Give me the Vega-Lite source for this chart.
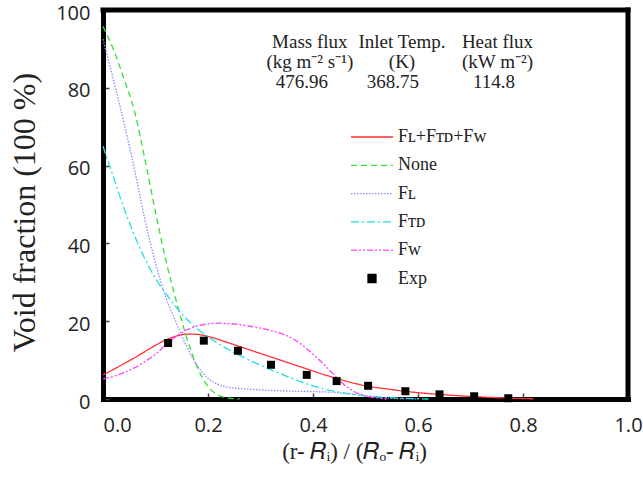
{
  "$schema": "https://vega.github.io/schema/vega-lite/v6.json",
  "width": 525,
  "height": 389,
  "autosize": {"type": "none"},
  "padding": {"left": 103, "top": 10, "right": 15, "bottom": 84},
  "background": "white",
  "config": {
    "view": {"stroke": null},
    "axis": {
      "zindex": 1,
      "grid": false,
      "domainColor": "black",
      "domainWidth": 5,
      "domainCap": "square",
      "tickColor": "#444",
      "tickWidth": 1.5,
      "tickSize": -6,
      "labelFont": "Open Sans",
      "labelFontSize": 20,
      "labelColor": "#222",
      "titleFont": "Liberation Serif",
      "titleFontWeight": "normal",
      "titleColor": "#222"
    },
    "legend": {
      "orient": "none",
      "legendX": 247,
      "legendY": 117,
      "padding": 0,
      "title": null,
      "labelFont": "Liberation Serif",
      "labelFontSize": 18,
      "labelColor": "#222",
      "labelOffset": 4,
      "symbolSize": 1764,
      "symbolStrokeWidth": 1.3,
      "symbolOffset": 0,
      "clipHeight": 20,
      "rowPadding": 8.3
    }
  },
  "datasets": {
    "curves": [
      {"series": "FL+FTD+FW", "x": 0, "y": 6.2}, {"series": "FL+FTD+FW", "x": 0.02, "y": 7.6}, {"series": "FL+FTD+FW", "x": 0.04, "y": 9.1}, {"series": "FL+FTD+FW", "x": 0.06, "y": 10.6}, {"series": "FL+FTD+FW", "x": 0.08, "y": 12.2}, {"series": "FL+FTD+FW", "x": 0.1, "y": 13.8}, {"series": "FL+FTD+FW", "x": 0.12, "y": 15.2}, {"series": "FL+FTD+FW", "x": 0.14, "y": 16.2}, {"series": "FL+FTD+FW", "x": 0.16, "y": 16.7}, {"series": "FL+FTD+FW", "x": 0.18, "y": 16.6}, {"series": "FL+FTD+FW", "x": 0.2, "y": 16.1}, {"series": "FL+FTD+FW", "x": 0.22, "y": 15.3}, {"series": "FL+FTD+FW", "x": 0.24, "y": 14.4}, {"series": "FL+FTD+FW", "x": 0.26, "y": 13.5}, {"series": "FL+FTD+FW", "x": 0.28, "y": 12.6}, {"series": "FL+FTD+FW", "x": 0.3, "y": 11.7}, {"series": "FL+FTD+FW", "x": 0.32, "y": 10.8}, {"series": "FL+FTD+FW", "x": 0.34, "y": 9.9}, {"series": "FL+FTD+FW", "x": 0.36, "y": 9.0}, {"series": "FL+FTD+FW", "x": 0.38, "y": 8.1}, {"series": "FL+FTD+FW", "x": 0.4, "y": 7.2}, {"series": "FL+FTD+FW", "x": 0.42, "y": 6.3}, {"series": "FL+FTD+FW", "x": 0.44, "y": 5.5}, {"series": "FL+FTD+FW", "x": 0.46, "y": 4.7}, {"series": "FL+FTD+FW", "x": 0.48, "y": 4.0}, {"series": "FL+FTD+FW", "x": 0.5, "y": 3.4}, {"series": "FL+FTD+FW", "x": 0.54, "y": 2.6}, {"series": "FL+FTD+FW", "x": 0.58, "y": 1.9}, {"series": "FL+FTD+FW", "x": 0.62, "y": 1.4}, {"series": "FL+FTD+FW", "x": 0.66, "y": 1.0}, {"series": "FL+FTD+FW", "x": 0.7, "y": 0.65}, {"series": "FL+FTD+FW", "x": 0.74, "y": 0.4}, {"series": "FL+FTD+FW", "x": 0.78, "y": 0.2}, {"series": "FL+FTD+FW", "x": 0.82, "y": 0.05},
      {"series": "None", "x": 0, "y": 95.8}, {"series": "None", "x": 0.02, "y": 89.8}, {"series": "None", "x": 0.04, "y": 82.3}, {"series": "None", "x": 0.06, "y": 74}, {"series": "None", "x": 0.08, "y": 61.5}, {"series": "None", "x": 0.1, "y": 48}, {"series": "None", "x": 0.12, "y": 35.5}, {"series": "None", "x": 0.14, "y": 25}, {"series": "None", "x": 0.16, "y": 15.5}, {"series": "None", "x": 0.18, "y": 8}, {"series": "None", "x": 0.2, "y": 3.2}, {"series": "None", "x": 0.22, "y": 1.0}, {"series": "None", "x": 0.24, "y": 0.2}, {"series": "None", "x": 0.26, "y": 0},
      {"series": "FL", "x": 0, "y": 92.5}, {"series": "FL", "x": 0.02, "y": 82}, {"series": "FL", "x": 0.04, "y": 71}, {"series": "FL", "x": 0.06, "y": 59}, {"series": "FL", "x": 0.08, "y": 46}, {"series": "FL", "x": 0.1, "y": 35}, {"series": "FL", "x": 0.12, "y": 26}, {"series": "FL", "x": 0.14, "y": 19.5}, {"series": "FL", "x": 0.16, "y": 13.3}, {"series": "FL", "x": 0.18, "y": 8.5}, {"series": "FL", "x": 0.2, "y": 5.3}, {"series": "FL", "x": 0.22, "y": 3.7}, {"series": "FL", "x": 0.24, "y": 3.0}, {"series": "FL", "x": 0.28, "y": 2.5}, {"series": "FL", "x": 0.32, "y": 2.2}, {"series": "FL", "x": 0.36, "y": 2.0}, {"series": "FL", "x": 0.4, "y": 1.9}, {"series": "FL", "x": 0.44, "y": 1.7}, {"series": "FL", "x": 0.48, "y": 1.2}, {"series": "FL", "x": 0.52, "y": 0.5}, {"series": "FL", "x": 0.56, "y": 0.1}, {"series": "FL", "x": 0.6, "y": 0},
      {"series": "FTD", "x": 0, "y": 65}, {"series": "FTD", "x": 0.02, "y": 57}, {"series": "FTD", "x": 0.04, "y": 49}, {"series": "FTD", "x": 0.06, "y": 42}, {"series": "FTD", "x": 0.08, "y": 36}, {"series": "FTD", "x": 0.1, "y": 31}, {"series": "FTD", "x": 0.12, "y": 27}, {"series": "FTD", "x": 0.14, "y": 23.5}, {"series": "FTD", "x": 0.16, "y": 20.5}, {"series": "FTD", "x": 0.18, "y": 18}, {"series": "FTD", "x": 0.2, "y": 16}, {"series": "FTD", "x": 0.22, "y": 14.2}, {"series": "FTD", "x": 0.24, "y": 12.6}, {"series": "FTD", "x": 0.26, "y": 11.2}, {"series": "FTD", "x": 0.28, "y": 9.9}, {"series": "FTD", "x": 0.3, "y": 8.7}, {"series": "FTD", "x": 0.32, "y": 7.5}, {"series": "FTD", "x": 0.34, "y": 6.4}, {"series": "FTD", "x": 0.36, "y": 5.3}, {"series": "FTD", "x": 0.38, "y": 4.3}, {"series": "FTD", "x": 0.4, "y": 3.4}, {"series": "FTD", "x": 0.42, "y": 2.6}, {"series": "FTD", "x": 0.44, "y": 2.0}, {"series": "FTD", "x": 0.46, "y": 1.5}, {"series": "FTD", "x": 0.48, "y": 1.1}, {"series": "FTD", "x": 0.5, "y": 0.8}, {"series": "FTD", "x": 0.54, "y": 0.4}, {"series": "FTD", "x": 0.58, "y": 0.15}, {"series": "FTD", "x": 0.62, "y": 0},
      {"series": "FW", "x": 0, "y": 5.2}, {"series": "FW", "x": 0.02, "y": 5.8}, {"series": "FW", "x": 0.04, "y": 6.8}, {"series": "FW", "x": 0.06, "y": 8.0}, {"series": "FW", "x": 0.08, "y": 9.6}, {"series": "FW", "x": 0.1, "y": 11.5}, {"series": "FW", "x": 0.12, "y": 14.0}, {"series": "FW", "x": 0.14, "y": 16.2}, {"series": "FW", "x": 0.16, "y": 17.8}, {"series": "FW", "x": 0.18, "y": 18.8}, {"series": "FW", "x": 0.2, "y": 19.3}, {"series": "FW", "x": 0.22, "y": 19.5}, {"series": "FW", "x": 0.24, "y": 19.4}, {"series": "FW", "x": 0.26, "y": 19.1}, {"series": "FW", "x": 0.28, "y": 18.7}, {"series": "FW", "x": 0.3, "y": 18.2}, {"series": "FW", "x": 0.32, "y": 17.6}, {"series": "FW", "x": 0.34, "y": 16.8}, {"series": "FW", "x": 0.36, "y": 15.6}, {"series": "FW", "x": 0.38, "y": 13.8}, {"series": "FW", "x": 0.4, "y": 11.5}, {"series": "FW", "x": 0.42, "y": 9.0}, {"series": "FW", "x": 0.44, "y": 6.2}, {"series": "FW", "x": 0.46, "y": 3.6}, {"series": "FW", "x": 0.48, "y": 1.8}, {"series": "FW", "x": 0.5, "y": 0.8}, {"series": "FW", "x": 0.52, "y": 0.3}, {"series": "FW", "x": 0.54, "y": 0}
    ],
    "exp": [
      {"series": "Exp", "x": 0.124, "y": 14.4},
      {"series": "Exp", "x": 0.192, "y": 15.0},
      {"series": "Exp", "x": 0.257, "y": 12.4},
      {"series": "Exp", "x": 0.320, "y": 8.8},
      {"series": "Exp", "x": 0.388, "y": 6.2},
      {"series": "Exp", "x": 0.445, "y": 4.6},
      {"series": "Exp", "x": 0.505, "y": 3.4},
      {"series": "Exp", "x": 0.576, "y": 2.0},
      {"series": "Exp", "x": 0.641, "y": 1.2},
      {"series": "Exp", "x": 0.707, "y": 0.7},
      {"series": "Exp", "x": 0.772, "y": 0.2}
    ]
  },
  "layer": [
    {
      "data": {"name": "curves"},
      "mark": {"type": "line", "strokeWidth": 1.3, "interpolate": "monotone"},
      "encoding": {
        "x": {
          "field": "x", "type": "quantitative",
          "scale": {"domain": [0, 1], "nice": false, "zero": false},
          "axis": {
            "values": [0, 0.2, 0.4, 0.6, 0.8, 1.0],
            "format": ".1f",
            "labelPadding": 38,
            "labelBaseline": "alphabetic",
            "labelAlign": {"condition": {"test": "datum.value == 0", "value": "left"}, "value": "center"},
            "title": "(r- 𝑅ᵢ) / (𝑅ₒ- 𝑅ᵢ)",
            "titleFontSize": 23,
            "titleX": 251,
            "titleY": 59,
            "titleBaseline": "alphabetic",
            "titleAlign": "center"
          }
        },
        "y": {
          "field": "y", "type": "quantitative",
          "scale": {"domain": [0, 100], "nice": false},
          "axis": {
            "values": [0, 20, 40, 60, 80, 100],
            "labelPadding": 19,
            "labelOffset": 3,
            "labelBaseline": "middle",
            "title": "Void fraction (100 %)",
            "titleFontSize": 32,
            "titleX": -79,
            "titleY": 202,
            "titleAngle": -90,
            "titleBaseline": "middle",
            "titleAlign": "center"
          }
        },
        "color": {
          "field": "series", "type": "nominal",
          "scale": {
            "domain": ["FL+FTD+FW", "None", "FL", "FTD", "FW", "Exp"],
            "range": ["#ff3030", "#33e033", "#8a8aff", "#22e0e0", "#ff40ff", "#000000"]
          },
          "legend": {
            "labelExpr": "datum.label == 'FL+FTD+FW' ? 'Fʟ+Fᴛᴅ+Fᴡ' : datum.label == 'FL' ? 'Fʟ' : datum.label == 'FTD' ? 'Fᴛᴅ' : datum.label == 'FW' ? 'Fᴡ' : datum.label"
          }
        },
        "strokeDash": {
          "field": "series", "type": "nominal",
          "scale": {
            "domain": ["FL+FTD+FW", "None", "FL", "FTD", "FW", "Exp"],
            "range": [[1, 0], [6, 4], [1.5, 1.5], [8, 3, 2, 3], [6, 2, 2, 2, 2, 2], [1, 0]]
          }
        }
      }
    },
    {
      "data": {"name": "exp"},
      "mark": {"type": "point", "filled": true, "size": 1764, "opacity": 1},
      "encoding": {
        "x": {"field": "x", "type": "quantitative"},
        "y": {"field": "y", "type": "quantitative"},
        "color": {"field": "series", "type": "nominal"},
        "shape": {
          "field": "series", "type": "nominal",
          "scale": {
            "domain": ["FL+FTD+FW", "None", "FL", "FTD", "FW", "Exp"],
            "range": ["stroke", "stroke", "stroke", "stroke", "stroke", "M-0.19,-0.19H0.19V0.19H-0.19Z"]
          }
        }
      }
    },
    {
      "data": {"values": [{}]},
      "mark": {"type": "rule", "color": "black", "strokeWidth": 5, "strokeCap": "square"},
      "encoding": {"x": {"datum": 0}, "x2": {"datum": 1}, "y": {"datum": 100}}
    },
    {
      "data": {"values": [{}]},
      "mark": {"type": "rule", "color": "black", "strokeWidth": 5, "strokeCap": "square"},
      "encoding": {"x": {"datum": 1}, "y": {"datum": 0}, "y2": {"datum": 100}}
    },
    {
      "data": {"values": [{}]},
      "mark": {"type": "text", "text": ["Mass flux", "(kg m⁻² s⁻¹)"], "font": "Liberation Serif", "fontSize": 19, "lineHeight": 20, "baseline": "alphabetic", "align": "center", "color": "#222"},
      "encoding": {"x": {"datum": 0.394}, "y": {"datum": 90.2}}
    },
    {
      "data": {"values": [{}]},
      "mark": {"type": "text", "text": "476.96", "font": "Liberation Serif", "fontSize": 19, "baseline": "alphabetic", "align": "center", "color": "#222"},
      "encoding": {"x": {"datum": 0.379}, "y": {"datum": 79.9}}
    },
    {
      "data": {"values": [{}]},
      "mark": {"type": "text", "text": ["Inlet Temp.", "(K)"], "font": "Liberation Serif", "fontSize": 19, "lineHeight": 20, "baseline": "alphabetic", "align": "center", "color": "#222"},
      "encoding": {"x": {"datum": 0.5695}, "y": {"datum": 90.2}}
    },
    {
      "data": {"values": [{}]},
      "mark": {"type": "text", "text": "368.75", "font": "Liberation Serif", "fontSize": 19, "baseline": "alphabetic", "align": "center", "color": "#222"},
      "encoding": {"x": {"datum": 0.552}, "y": {"datum": 79.9}}
    },
    {
      "data": {"values": [{}]},
      "mark": {"type": "text", "text": ["Heat flux", "(kW m⁻²)"], "font": "Liberation Serif", "fontSize": 19, "lineHeight": 20, "baseline": "alphabetic", "align": "center", "color": "#222"},
      "encoding": {"x": {"datum": 0.7514}, "y": {"datum": 90.2}}
    },
    {
      "data": {"values": [{}]},
      "mark": {"type": "text", "text": "114.8", "font": "Liberation Serif", "fontSize": 19, "baseline": "alphabetic", "align": "center", "color": "#222"},
      "encoding": {"x": {"datum": 0.7448}, "y": {"datum": 79.9}}
    }
  ]
}
